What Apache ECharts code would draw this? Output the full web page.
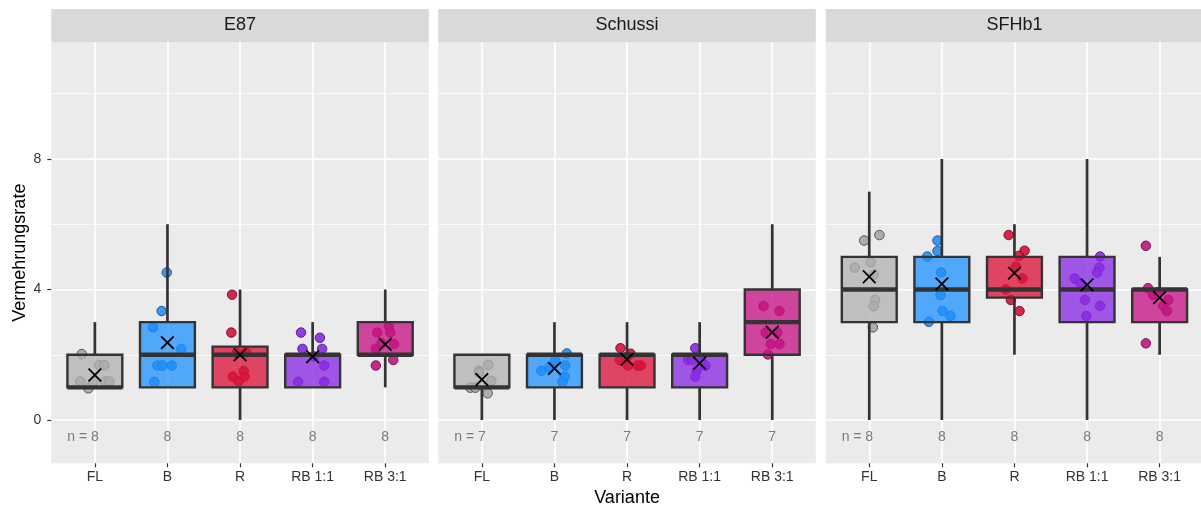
<!DOCTYPE html>
<html>
<head>
<meta charset="utf-8">
<script src="https://cdn.jsdelivr.net/npm/echarts@6/dist/echarts.min.js"></script>
<style>
html,body{margin:0;padding:0;background:#ffffff;}
#chart{width:1201px;height:506px;}
</style>
</head>
<body>
<div id="chart"></div>
<script>
// ---------------- DATA ----------------
const panels = ['E87', 'Schussi', 'SFHb1'];
const categories = ['FL', 'B', 'R', 'RB 1:1', 'RB 3:1'];
const yTicks = [0, 4, 8];
const yMinorTicks = [2, 6, 10];

// box statistics per category: [min, Q1, median, Q3, max]
const boxE87 = [[1, 1, 1, 2, 3], [1, 1, 2, 3, 6], [0, 1, 2, 2.25, 4], [1, 1, 2, 2, 3], [1, 2, 2, 3, 4]];
const boxSchussi = [[0, 1, 1, 2, 2], [0, 1, 2, 2, 3], [0, 1, 2, 2, 3], [0, 1, 2, 2, 3], [0, 2, 3, 4, 6]];
const boxSFHb1 = [[0, 3, 4, 5, 7], [0, 3, 4, 5, 8], [2, 3.75, 4, 5, 6], [0, 3, 4, 5, 8], [2, 3, 4, 4, 5]];

// means (X marker)
const meanE87 = [1.38, 2.37, 2.0, 1.94, 2.32];
const meanSchussi = [1.24, 1.58, 1.86, 1.74, 2.69];
const meanSFHb1 = [4.39, 4.17, 4.5, 4.14, 3.75];

// counts (n)
const nE87 = [8, 8, 8, 8, 8];
const nSchussi = [7, 7, 7, 7, 7];
const nSFHb1 = [8, 8, 8, 8, 8];

// jittered observations per category: [jitter offset (category units), value]
const pointsE87 = [
  [[-0.18, 2.02], [0.06, 1.68], [0.13, 1.68], [-0.20, 1.18], [-0.02, 1.18], [0.14, 1.18], [0.20, 1.18], [-0.09, 0.97]],
  [[-0.01, 4.52], [-0.08, 3.34], [-0.20, 2.84], [0.19, 2.18], [-0.14, 1.67], [-0.07, 1.67], [0.06, 1.67], [-0.18, 1.17]],
  [[-0.11, 3.84], [-0.12, 2.68], [-0.10, 1.33], [0.05, 1.50], [0.06, 1.33], [-0.02, 1.18], [-0.05, 2.05], [0.08, 2.08]],
  [[-0.16, 2.68], [0.10, 2.52], [-0.14, 2.18], [0.13, 2.18], [0.16, 1.67], [-0.20, 1.17], [0.16, 1.17], [0.02, 1.95]],
  [[0.05, 2.86], [0.07, 2.68], [-0.11, 2.68], [0.12, 2.33], [-0.13, 2.18], [-0.05, 2.35], [-0.13, 1.67], [0.11, 1.84]]
];
const pointsSchussi = [
  [[0.09, 1.69], [-0.04, 1.51], [0.13, 1.20], [-0.16, 0.99], [-0.09, 0.99], [0.08, 0.82], [-0.04, 1.45]],
  [[-0.18, 1.51], [0.01, 1.82], [0.15, 1.67], [0.17, 2.04], [0.14, 1.33], [0.11, 1.17], [-0.07, 1.60]],
  [[-0.09, 2.20], [-0.10, 1.84], [0.01, 1.67], [0.14, 1.67], [0.19, 1.67], [0.00, 1.94], [0.05, 2.03]],
  [[-0.06, 2.20], [-0.16, 1.84], [-0.04, 1.51], [-0.06, 1.33], [0.02, 1.79], [0.08, 1.67], [-0.10, 1.84]],
  [[-0.12, 3.49], [0.10, 3.34], [-0.09, 2.68], [0.07, 2.68], [-0.02, 2.33], [0.10, 2.33], [-0.06, 2.01]]
];
const pointsSFHb1 = [
  [[0.14, 5.67], [-0.07, 5.50], [0.02, 4.83], [-0.20, 4.67], [0.08, 3.68], [0.06, 3.49], [0.05, 2.84], [0.06, 4.45]],
  [[-0.06, 5.50], [-0.06, 5.18], [-0.20, 5.01], [-0.01, 4.52], [-0.02, 3.83], [0.01, 3.34], [0.12, 3.19], [-0.18, 3.01]],
  [[-0.08, 5.67], [0.14, 5.19], [0.06, 5.03], [0.02, 4.70], [0.11, 4.34], [-0.12, 4.00], [-0.05, 3.68], [0.07, 3.34]],
  [[0.18, 5.01], [0.17, 4.67], [0.14, 4.52], [-0.17, 4.34], [-0.09, 4.19], [-0.03, 3.68], [0.18, 3.50], [-0.01, 3.19]],
  [[-0.19, 5.34], [-0.16, 4.04], [-0.09, 3.83], [0.12, 3.68], [0.05, 3.50], [0.10, 3.34], [-0.19, 2.35], [-0.02, 3.92]]
];

// ---------------- STYLE ----------------
const boxFill = ['rgba(176,176,176,0.75)', 'rgba(30,144,255,0.75)', 'rgba(220,20,60,0.78)', 'rgba(138,43,226,0.78)', 'rgba(199,21,133,0.78)'];
const pointFill = ['#A6A6A6', '#2A8EEF', '#D0143C', '#8A2BE2', '#C2157F'];
const pointStroke = ['#4A4A4A', '#174F8C', '#7A0A22', '#4E1882', '#700C4A'];
const FONT = '"Liberation Sans", Arial, Helvetica, sans-serif';

const allBoxes = [boxE87, boxSchussi, boxSFHb1];
const allMeans = [meanE87, meanSchussi, meanSFHb1];
const allN = [nE87, nSchussi, nSFHb1];
const allPoints = [pointsE87, pointsSchussi, pointsSFHb1];

const gridLefts = [51.3, 438.3, 825.7];
const gridWidth = 377.5;
const gridTop = 42;
const gridHeight = 421.3;
const Y_MIN = -1.327, Y_MAX = 11.586;
const X_MIN = -0.6, X_MAX = 4.6;
const catIdx = categories.map((c, i) => i);
const N_LABEL_Y = -0.51;

const grids = [], xAxes = [], yAxes = [], series = [], graphics = [];

panels.forEach((p, i) => {
  grids.push({
    left: gridLefts[i], top: gridTop, width: gridWidth, height: gridHeight,
    show: true, backgroundColor: '#EBEBEB', borderWidth: 0,
    containLabel: false, outerBoundsMode: 'none'
  });
  xAxes.push({
    type: 'value', gridIndex: i, min: X_MIN, max: X_MAX, position: 'bottom',
    axisLine: { show: false, onZero: false },
    axisTick: { show: true, customValues: catIdx, length: 4, lineStyle: { color: '#333333', width: 1.2 } },
    axisLabel: {
      show: true, customValues: catIdx, margin: 7,
      formatter: v => categories[Math.round(v)] || '',
      color: '#333333', fontSize: 14, fontFamily: FONT
    },
    splitLine: { show: true, lineStyle: { color: '#FFFFFF', width: 1.6 } },
    name: i === 1 ? 'Variante' : '',
    nameLocation: 'middle', nameGap: 23,
    nameTextStyle: { fontSize: 18, color: '#000000', fontFamily: FONT }
  });
  yAxes.push({
    type: 'value', gridIndex: i, min: Y_MIN, max: Y_MAX, position: 'left',
    axisLine: { show: false, onZero: false },
    axisTick: { show: i === 0, customValues: yTicks, length: 4, lineStyle: { color: '#333333', width: 1.2 } },
    axisLabel: { show: i === 0, customValues: yTicks, margin: 10, color: '#333333', fontSize: 14, fontFamily: FONT },
    splitLine: { show: true, lineStyle: { color: '#FFFFFF', width: 1.6 } },
    name: i === 0 ? 'Vermehrungsrate' : '',
    nameLocation: 'middle', nameGap: 22,
    nameTextStyle: { fontSize: 18, color: '#000000', fontFamily: FONT }
  });
  yAxes.push({
    type: 'value', gridIndex: i, min: Y_MIN, max: Y_MAX, position: 'left',
    axisLine: { show: false, onZero: false },
    axisTick: { show: false, customValues: yMinorTicks },
    axisLabel: { show: false, customValues: yMinorTicks },
    splitLine: { show: true, lineStyle: { color: '#FFFFFF', width: 0.8 } }
  });

  // strip header
  graphics.push({
    type: 'rect', silent: true,
    shape: { x: gridLefts[i], y: 9, width: gridWidth, height: 33 },
    style: { fill: '#D9D9D9' }
  });
  graphics.push({
    type: 'text', silent: true,
    x: gridLefts[i] + gridWidth / 2, y: 25.5,
    style: { text: p, fill: '#1A1A1A', font: '18px ' + FONT, align: 'center', verticalAlign: 'middle' }
  });

  // jittered points (drawn beneath boxes)
  const pts = [];
  allPoints[i].forEach((arr, c) => {
    arr.forEach(pt => {
      pts.push({ value: [c + pt[0], pt[1]], itemStyle: { color: pointFill[c], borderColor: pointStroke[c] } });
    });
  });
  series.push({
    type: 'scatter', xAxisIndex: i, yAxisIndex: 2 * i, z: 2, silent: true,
    symbol: 'circle', symbolSize: 9.5,
    itemStyle: { borderWidth: 1, opacity: 0.9 },
    data: pts
  });

  // boxes
  series.push({
    type: 'custom', xAxisIndex: i, yAxisIndex: 2 * i, z: 3, silent: true,
    dimensions: ['x', 'min', 'q1', 'med', 'q3', 'max'],
    encode: { x: 0, y: [1, 2, 3, 4, 5] },
    data: allBoxes[i].map((b, c) => [c].concat(b)),
    renderItem: function (params, api) {
      const c = api.value(0), mn = api.value(1), q1 = api.value(2), md = api.value(3), q3 = api.value(4), mx = api.value(5);
      const hw = 0.378;
      const tl = api.coord([c - hw, q3]);
      const br = api.coord([c + hw, q1]);
      const pMax = api.coord([c, mx]);
      const pQ3 = api.coord([c, q3]);
      const pQ1 = api.coord([c, q1]);
      const pMin = api.coord([c, mn]);
      const pMed = api.coord([c, md]);
      const ch = [];
      const wl = { stroke: '#333333', lineWidth: 2.7 };
      if (mx > q3) ch.push({ type: 'line', shape: { x1: pMax[0], y1: pMax[1], x2: pQ3[0], y2: pQ3[1] }, style: wl });
      if (mn < q1) ch.push({ type: 'line', shape: { x1: pQ1[0], y1: pQ1[1], x2: pMin[0], y2: pMin[1] }, style: wl });
      ch.push({
        type: 'rect',
        shape: { x: tl[0], y: tl[1], width: br[0] - tl[0], height: br[1] - tl[1] },
        style: { fill: boxFill[params.dataIndex], stroke: '#333333', lineWidth: 2.4 }
      });
      ch.push({ type: 'line', shape: { x1: tl[0], y1: pMed[1], x2: br[0], y2: pMed[1] }, style: { stroke: '#333333', lineWidth: 4.3 } });
      return { type: 'group', children: ch };
    }
  });

  // mean markers
  series.push({
    type: 'custom', xAxisIndex: i, yAxisIndex: 2 * i, z: 4, silent: true,
    data: allMeans[i].map((m, c) => [c, m]),
    renderItem: function (params, api) {
      const p0 = api.coord([api.value(0), api.value(1)]);
      const s = 6.3;
      const st = { stroke: '#000000', lineWidth: 1.8 };
      return {
        type: 'group', children: [
          { type: 'line', shape: { x1: p0[0] - s, y1: p0[1] - s, x2: p0[0] + s, y2: p0[1] + s }, style: st },
          { type: 'line', shape: { x1: p0[0] - s, y1: p0[1] + s, x2: p0[0] + s, y2: p0[1] - s }, style: st }
        ]
      };
    }
  });

  // n labels
  series.push({
    type: 'custom', xAxisIndex: i, yAxisIndex: 2 * i, z: 4, silent: true,
    data: allN[i].map((n, c) => [c, N_LABEL_Y, n]),
    renderItem: function (params, api) {
      const p0 = api.coord([api.value(0), api.value(1)]);
      const n = api.value(2);
      const txt = params.dataIndex === 0 ? 'n = ' + n : String(n);
      return {
        type: 'text', x: p0[0] + 3.9, y: p0[1],
        style: { text: txt, fill: '#7A7A7A', font: '14px ' + FONT, align: 'right', verticalAlign: 'middle' }
      };
    }
  });
});

const chart = echarts.init(document.getElementById('chart'), null, { renderer: 'canvas' });
chart.setOption({
  backgroundColor: '#FFFFFF',
  animation: false,
  grid: grids,
  xAxis: xAxes,
  yAxis: yAxes,
  series: series,
  graphic: graphics
});
</script>
</body>
</html>
